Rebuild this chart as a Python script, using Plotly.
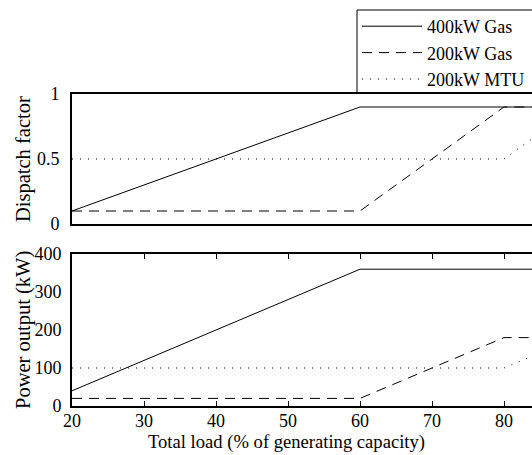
import plotly.graph_objects as go

# Data (total load % vs dispatch factor / power output)
load_400 = [20, 60, 90, 100]
dispatch_400 = [0.1, 0.9, 0.9, 1.0]
load_200 = [20, 60, 80, 90, 100]
dispatch_200 = [0.1, 0.1, 0.9, 0.9, 1.0]
load_mtu = [20, 80, 90, 100]
dispatch_mtu = [0.5, 0.5, 0.9, 1.0]

cap_400 = 400
cap_200 = 200
cap_mtu = 200

power_400 = [d * cap_400 for d in dispatch_400]
power_200 = [d * cap_200 for d in dispatch_200]
power_mtu = [d * cap_mtu for d in dispatch_mtu]

names = ["400kW Gas", "200kW Gas", "200kW MTU"]
x_ticks = [20, 30, 40, 50, 60, 70, 80, 90, 100]
top_ticks = [0, 0.5, 1]
top_ticktext = ["0", "0.5", "1"]
bottom_ticks = [0, 100, 200, 300, 400]

FONT = "Liberation Serif, Times New Roman, serif"
W, H = 532, 455
styles = [dict(color="black", width=1),
          dict(color="black", width=1, dash="10px,7px"),
          dict(color="black", width=1, dash="1px,7px")]

fig = go.Figure()
series_top = [(load_400, dispatch_400), (load_200, dispatch_200), (load_mtu, dispatch_mtu)]
series_bot = [(load_400, power_400), (load_200, power_200), (load_mtu, power_mtu)]
for i, (xs, ys) in enumerate(series_top):
    fig.add_trace(go.Scatter(x=xs, y=ys, mode="lines", line=styles[i], name=names[i],
                             xaxis="x", yaxis="y", showlegend=True, cliponaxis=True))
for i, (xs, ys) in enumerate(series_bot):
    fig.add_trace(go.Scatter(x=xs, y=ys, mode="lines", line=styles[i], name=names[i],
                             xaxis="x2", yaxis="y2", showlegend=False, cliponaxis=True))

left_px = 72
PW = W - left_px
xmax = 20 + PW / 7.2

def ydom(top_px, bot_px):
    return [1 - bot_px / H, 1 - top_px / H]

def px_x(px):
    return (px - left_px) / PW

tick_font = dict(family=FONT, size=18, color="black")
ytitle_font = dict(family=FONT, size=20.5, color="black")
xtitle_font = dict(family=FONT, size=18.6, color="black")
axis_common = dict(showgrid=False, zeroline=False, linecolor="black", linewidth=2,
                   showline=True, tickfont=tick_font)

top_dom = ydom(94, 224)
bot_dom = ydom(254, 406)

fig.update_layout(
    width=W, height=H,
    margin=dict(l=left_px, r=0, t=0, b=0, autoexpand=False),
    paper_bgcolor="white", plot_bgcolor="white",
    font=dict(family=FONT, size=18, color="black"),
    xaxis=dict(domain=[0, 1], range=[20, xmax], anchor="y", mirror=True,
               showticklabels=False, ticks="", **axis_common),
    yaxis=dict(domain=top_dom, range=[0, 1], anchor="x",
               tickvals=top_ticks, ticktext=top_ticktext, ticks="",
               ticklabelstandoff=7, **axis_common),
    xaxis2=dict(domain=[0, 1], range=[20, xmax], anchor="y2", mirror="ticks",
                tickvals=x_ticks, ticks="inside", ticklen=5, tickwidth=1, tickcolor="black",
                ticklabelstandoff=-3, **axis_common),
    yaxis2=dict(domain=bot_dom, range=[0, 400], anchor="x2",
                tickvals=bottom_ticks, ticks="", ticklabelstandoff=5,
                **axis_common),
    legend=dict(x=px_x(357), y=1 - 8 / H,
                xref="paper", yref="container", xanchor="left", yanchor="top",
                bgcolor="rgba(0,0,0,0)", borderwidth=0,
                font=dict(family=FONT, size=18, color="black"),
                tracegroupgap=0, itemwidth=60),
    shapes=[dict(type="rect", xref="paper", yref="paper",
                 x0=px_x(357), x1=1.2,
                 y0=1 - 93 / H, y1=1 - 10 / H,
                 line=dict(color="black", width=1), fillcolor="rgba(0,0,0,0)", layer="above")],
    annotations=[
        dict(text="Dispatch factor", textangle=-90, xref="paper", yref="paper",
             x=px_x(23), y=(top_dom[0] + top_dom[1]) / 2, xanchor="center", yanchor="middle",
             showarrow=False, font=ytitle_font),
        dict(text="Power output (kW)", textangle=-90, xref="paper", yref="paper",
             x=px_x(23), y=(bot_dom[0] + bot_dom[1]) / 2, xanchor="center", yanchor="middle",
             showarrow=False, font=ytitle_font),
        dict(text="Total load (% of generating capacity)", xref="paper", yref="paper",
             x=px_x(286), y=1 - 442 / H, xanchor="center", yanchor="middle",
             showarrow=False, font=xtitle_font),
    ],
)

fig.write_html("out.html")
